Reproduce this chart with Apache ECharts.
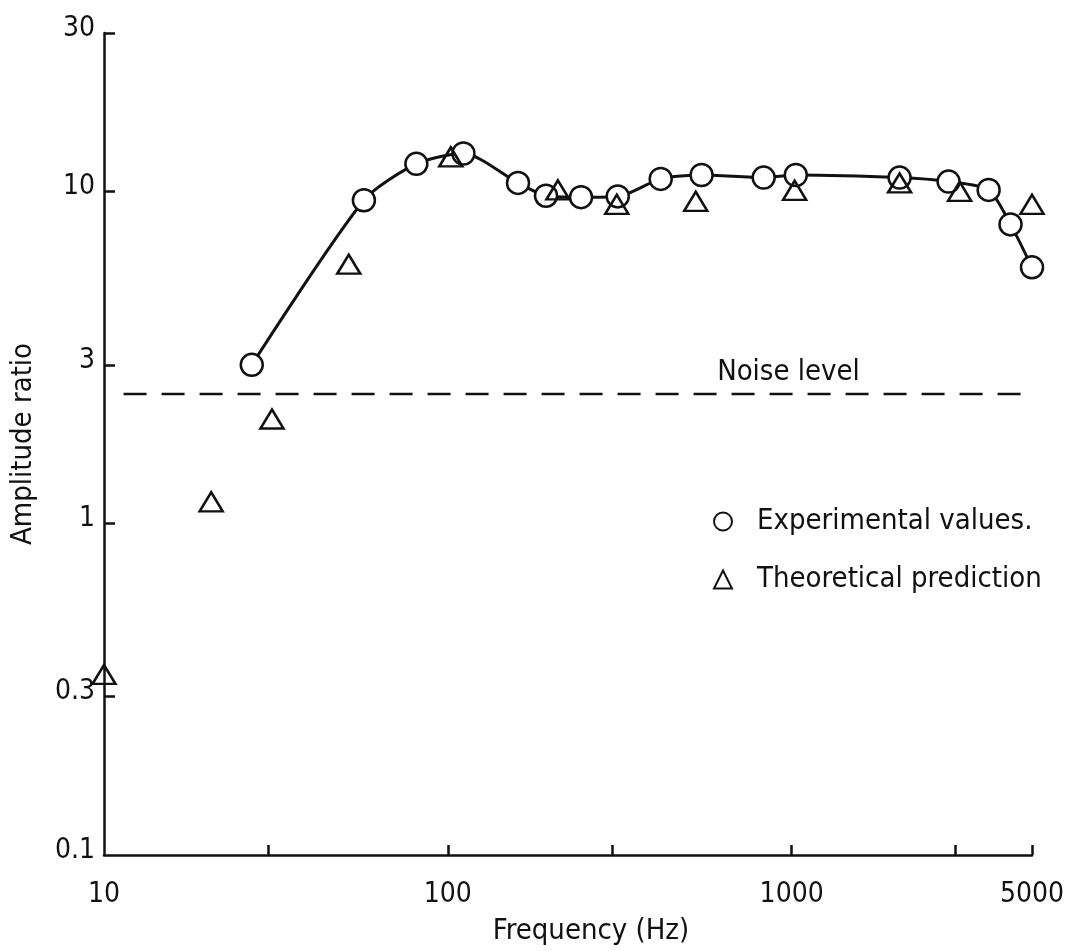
<!DOCTYPE html>
<html><head><meta charset="utf-8">
<script src="https://cdn.jsdelivr.net/npm/echarts@6/dist/echarts.min.js"></script>
<style>html,body{margin:0;padding:0;background:#fff}#c{width:1073px;height:951px}</style>
</head><body><div id="c"></div>
<script>
// Experimental values (circles, joined by a smooth curve)
const expFreq = [26.9, 57, 81, 111, 160, 193, 244, 312, 416, 547, 829, 1028, 2060, 2860, 3740, 4330, 5000];
const expAmp  = [3.0, 9.4, 12.1, 13.0, 10.6, 9.7, 9.6, 9.65, 10.9, 11.2, 11.0, 11.2, 11.0, 10.7, 10.1, 7.95, 5.9];
// Theoretical prediction (triangles)
const theoFreq = [10, 20.5, 30.8, 51.5, 102, 209, 310, 526, 1020, 2060, 3080, 5000];
const theoAmp  = [0.35, 1.16, 2.06, 6.03, 12.7, 10.1, 9.14, 9.33, 10.07, 10.6, 10.0, 9.14];
// Noise level (dashed line)
const noiseLevel = 2.45;
const noiseFreq = [11.4, 5000];
const noiseLabelFreq = 605;
// Axis ticks and labels
const xTickValues = [30, 100, 300, 1000, 3000, 5000];
const xLabelValues = [10, 100, 1000, 5000];
const yTickValues = [0.3, 1, 3, 10, 30];
const yLabelValues = [0.1, 0.3, 1, 3, 10, 30];

const FONT = '"DejaVu Sans Condensed","Liberation Sans Narrow","DejaVu Sans",sans-serif';
const INK = '#111';
const fmt = v => String(parseFloat(Number(v).toPrecision(6)));

const chart = echarts.init(document.getElementById('c'), null, {renderer: 'canvas'});
chart.setOption({
  animation: false,
  backgroundColor: '#fff',
  textStyle: {fontFamily: FONT, color: INK},
  grid: {left: 104, right: 41, top: 33, bottom: 95, containLabel: false},
  legend: {
    orient: 'vertical', left: 708, top: 502,
    itemWidth: 18, itemHeight: 18, itemGap: 29,
    selectedMode: false,
    textStyle: {fontFamily: FONT, fontSize: 29, color: INK, padding: [0, 0, 0, 20]},
    data: [
      {name: 'Experimental values.', icon: 'circle', itemStyle: {color: '#fff', borderColor: INK, borderWidth: 2, opacity: 1}},
      {name: 'Theoretical prediction', icon: 'triangle', itemStyle: {color: '#fff', borderColor: INK, borderWidth: 2, opacity: 1}}
    ]
  },
  xAxis: {
    type: 'log', logBase: 10, min: 10, max: 5000,
    name: 'Frequency (Hz)', nameLocation: 'middle', nameGap: 62,
    nameTextStyle: {fontFamily: FONT, fontSize: 29, color: INK, padding: [0, 0, 0, 46]},
    axisLine: {show: true, lineStyle: {color: INK, width: 2.5}},
    axisTick: {show: true, inside: true, length: 10, lineStyle: {color: INK, width: 2.5}, customValues: xTickValues},
    axisLabel: {show: true, margin: 26, fontFamily: FONT, fontSize: 28, color: INK, customValues: xLabelValues, formatter: fmt},
    splitLine: {show: false}, minorTick: {show: false}
  },
  yAxis: {
    type: 'log', logBase: 10, min: 0.1, max: 30,
    name: 'Amplitude ratio', nameLocation: 'middle', nameGap: 66,
    nameTextStyle: {fontFamily: FONT, fontSize: 29, color: INK},
    axisLine: {show: true, lineStyle: {color: INK, width: 2.5}},
    axisTick: {show: true, inside: true, length: 11, lineStyle: {color: INK, width: 2.5}, customValues: yTickValues},
    axisLabel: {show: true, margin: 9, fontFamily: FONT, fontSize: 28, color: INK, customValues: yLabelValues,
      formatter: fmt, verticalAlign: 'bottom', lineHeight: 9},
    splitLine: {show: false}, minorTick: {show: false}
  },
  series: [
    {
      name: 'Noise level', type: 'line', z: 1,
      data: noiseFreq.map(f => [f, noiseLevel]),
      symbol: 'none', silent: true,
      lineStyle: {color: INK, width: 2.5, type: [23, 15]},
      markPoint: {
        symbol: 'circle', symbolSize: 1, silent: true,
        itemStyle: {color: 'rgba(0,0,0,0)'},
        label: {show: true, position: 'right', distance: 0, offset: [0, -22], formatter: 'Noise level',
          fontFamily: FONT, fontSize: 29, color: INK},
        data: [{coord: [noiseLabelFreq, noiseLevel]}]
      }
    },
    {
      name: 'Experimental values.', type: 'line', z: 3,
      data: expFreq.map((f, i) => [f, expAmp[i]]),
      smooth: 0.25, clip: false,
      symbol: 'circle', symbolSize: 22, showSymbol: true,
      lineStyle: {color: INK, width: 3},
      itemStyle: {color: '#fff', borderColor: INK, borderWidth: 2.5, opacity: 1},
      emphasis: {disabled: true}
    },
    {
      name: 'Theoretical prediction', type: 'scatter', z: 4,
      data: theoFreq.map((f, i) => [f, theoAmp[i]]),
      clip: false,
      symbol: 'triangle', symbolSize: [23, 19],
      itemStyle: {color: 'rgba(0,0,0,0)', borderColor: INK, borderWidth: 2.5, opacity: 1},
      emphasis: {disabled: true}
    }
  ]
});
</script>
</body></html>
